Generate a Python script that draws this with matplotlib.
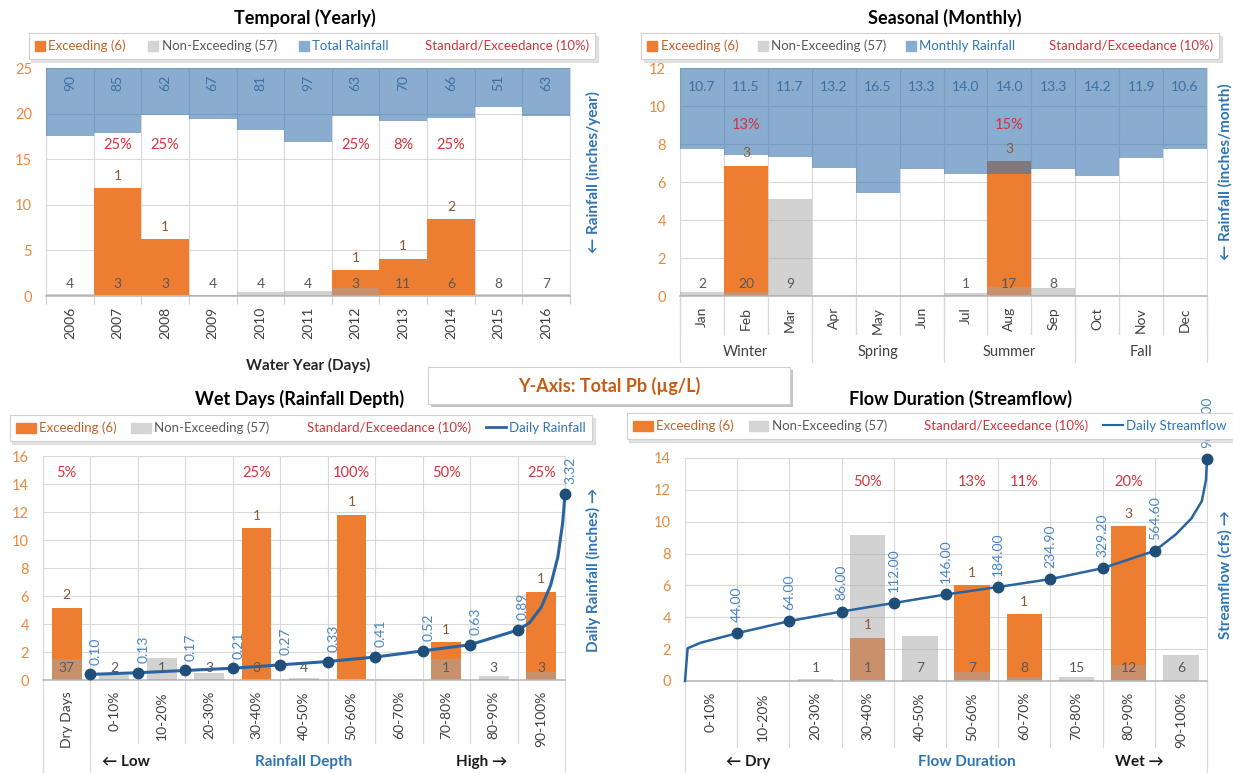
import numpy as np
import matplotlib.pyplot as plt
from matplotlib.patches import Patch, Rectangle
from matplotlib.lines import Line2D
from matplotlib.ticker import MultipleLocator, NullLocator
from matplotlib.transforms import blended_transform_factory as blend

plt.rcParams['font.family'] = ['Lato', 'DejaVu Sans']

W, H = 1233, 773

ORANGE = '#ed7d31'
GRAY = '#a6a6a6'
RAINBLUE = '#3a75b0'
LINEBLUE = '#2a64a0'
DOTBLUE = '#1f4e79'
TICKORANGE = '#e9893f'
LABBLUE = '#2e75b6'
RED = '#d2343c'
BROWN = '#8a5a34'
DARK = '#404040'
GRID = '#d9d9d9'

# ---- Temporal (yearly) ----
years = ['2006', '2007', '2008', '2009', '2010', '2011', '2012', '2013', '2014', '2015', '2016']
yr_exceed = [0, 11.8, 6.2, 0, 0, 0, 2.8, 4.1, 8.4, 0, 0]
yr_nonexceed = [0.25, 0, 0, 0.1, 0.4, 0.55, 0.85, 0, 0, 0.25, 0.2]
yr_rainfall = [90, 85, 62, 67, 81, 97, 63, 70, 66, 51, 63]
yr_n_nonexceed = ['4', '3', '3', '4', '4', '4', '3', '11', '6', '8', '7']
yr_n_exceed = ['', '1', '1', '', '', '', '1', '1', '2', '', '']
yr_pct = ['', '25%', '25%', '', '', '', '25%', '8%', '25%', '', '']

# ---- Seasonal (monthly) ----
months = ['Jan', 'Feb', 'Mar', 'Apr', 'May', 'Jun', 'Jul', 'Aug', 'Sep', 'Oct', 'Nov', 'Dec']
mo_exceed = [0, 6.85, 0, 0, 0, 0, 0, 7.1, 0, 0, 0, 0]
mo_nonexceed = [0.2, 0.2, 5.1, 0, 0, 0, 0.15, 0.45, 0.4, 0, 0, 0]
mo_rainfall = [10.7, 11.5, 11.7, 13.2, 16.5, 13.3, 14.0, 14.0, 13.3, 14.2, 11.9, 10.6]
mo_n_nonexceed = ['2', '20', '9', '', '', '', '1', '17', '8', '', '', '']
mo_n_exceed = ['', '3', '', '', '', '', '', '3', '', '', '', '']
mo_pct = ['', '13%', '', '', '', '', '', '15%', '', '', '', '']
seasons = ['Winter', 'Spring', 'Summer', 'Fall']

# ---- Wet days (rainfall depth) ----
depth_bins = ['Dry Days', '0-10%', '10-20%', '20-30%', '30-40%', '40-50%',
              '50-60%', '60-70%', '70-80%', '80-90%', '90-100%']
wd_exceed = [5.15, 0, 0, 0, 10.85, 0, 11.8, 0, 2.7, 0, 6.3]
wd_nonexceed = [1.5, 0.35, 1.6, 0.5, 0.1, 0.12, 0, 0, 1.5, 0.3, 0.6]
wd_n_nonexceed = ['37', '2', '1', '3', '3', '4', '', '', '1', '3', '3']
wd_n_exceed = ['2', '', '', '', '1', '', '1', '', '1', '', '1']
wd_pct = ['5%', '', '', '', '25%', '', '100%', '', '50%', '', '25%']
daily_rain = [0.10, 0.13, 0.17, 0.21, 0.27, 0.33, 0.41, 0.52, 0.63, 0.89, 3.32]
rain_tail_x = [9.75, 10.0, 10.2, 10.35, 10.45]
rain_tail_y = [1.02, 1.3, 1.7, 2.2, 2.8]

# ---- Flow duration (streamflow) ----
flow_bins = ['0-10%', '10-20%', '20-30%', '30-40%', '40-50%',
             '50-60%', '60-70%', '70-80%', '80-90%', '90-100%']
fd_exceed = [0, 0, 0, 2.7, 0, 6.0, 4.2, 0, 9.7, 0]
fd_nonexceed = [0, 0, 0.15, 9.15, 2.85, 0.55, 0.25, 0.25, 1.0, 1.65]
fd_n_nonexceed = ['', '', '1', '1', '7', '7', '8', '15', '12', '6']
fd_n_exceed = ['', '', '', '1', '', '1', '1', '', '3', '']
fd_pct = ['', '', '', '50%', '', '13%', '11%', '', '20%', '']
streamflow = [44.00, 64.00, 86.00, 112.00, 146.00, 184.00, 234.90, 329.20, 564.60, 9600.00]
flow_head_x = [-0.5, -0.45, -0.2]
flow_head_y = [10, 27.6, 32.7]
flow_tail_x = [8.9, 9.2, 9.4, 9.48]
flow_tail_y = [935, 1535, 2630, 5000]

fig = plt.figure(figsize=(W / 100, H / 100), dpi=100)


def px_axes(l, t, r, b):
    return fig.add_axes([l / W, 1 - b / H, (r - l) / W, (b - t) / H])


def fy(y):  # pixel row -> figure fraction
    return 1 - y / H


def base_axes(ax, cats, ymax, ystep):
    n = len(cats)
    ax.set_xlim(-0.5, n - 0.5)
    ax.set_ylim(0, ymax)
    ax.yaxis.set_major_locator(MultipleLocator(ystep))
    ax.set_xticks(np.arange(n))
    ax.set_xticklabels(cats, rotation=90)
    ax.set_xticks(np.arange(n + 1) - 0.5, minor=True)
    ax.grid(True, which='minor', axis='x', color=GRID, lw=0.8)
    ax.grid(True, which='major', axis='y', color=GRID, lw=0.8)
    ax.tick_params(axis='y', length=0, labelcolor=TICKORANGE, labelsize=10.5, pad=10)
    ax.tick_params(axis='x', which='major', length=0, labelsize=10, labelcolor=DARK, pad=8)
    ax.tick_params(axis='x', which='minor', length=0)
    for s in ['left', 'top', 'right']:
        ax.spines[s].set_color(GRID)
    ax.spines['bottom'].set_color('#bfbfbf')
    ax.spines['bottom'].set_linewidth(1.3)
    ax.set_axisbelow(True)


def draw_bars(ax, exceed, nonexceed, width):
    x = np.arange(len(exceed))
    ax.bar(x, exceed, width, color=ORANGE, zorder=2)
    ax.bar(x, nonexceed, width, color=GRAY, alpha=0.5, zorder=3)


def bar_texts(top, ax, exceed, n_non, n_exc, pct, pct_y):
    for i in range(len(exceed)):
        if n_non[i]:
            top.annotate(n_non[i], (i, 0), xycoords=ax.transData, xytext=(0, 9),
                         textcoords='offset points', ha='center', va='center',
                         fontsize=10, color='#595959', zorder=6)
        if n_exc[i]:
            top.annotate(n_exc[i], (i, exceed[i]), xycoords=ax.transData, xytext=(0, 9),
                         textcoords='offset points', ha='center', va='center',
                         fontsize=10, color=BROWN, zorder=6)
        if pct[i]:
            top.text(i, pct_y, pct[i], transform=ax.transData, ha='center', va='center',
                     fontsize=10.5, color=RED, zorder=6)


def hide_twin(ax2):
    ax2.yaxis.set_major_locator(NullLocator())
    ax2.yaxis.set_minor_locator(NullLocator())
    for s in ax2.spines.values():
        s.set_visible(False)


def panel_legend(handles, labels, colors, cx, cy, hl, colsp):
    leg = fig.legend(handles, labels, loc='center', bbox_to_anchor=(cx / W, fy(cy)),
                     ncol=len(labels), frameon=True, fancybox=False,
                     shadow={'color': '#c8c8c8'}, edgecolor='#d0d0d0', fontsize=9.5,
                     labelcolor=colors, handlelength=hl, handleheight=0.8,
                     handletextpad=0.25, columnspacing=colsp, borderpad=0.5)
    leg.get_frame().set_linewidth(0.8)
    leg.set_zorder(10)


def below_lines(ax, xs, y0, y1):
    tr = blend(ax.transData, fig.transFigure)
    for x in xs:
        ax.plot([x, x], [fy(y0), fy(y1)], transform=tr, color=GRID, lw=0.9, clip_on=False)


# ================= Panel 1: Temporal (Yearly) =================
ax1 = px_axes(46, 68, 570, 296)
base_axes(ax1, years, 25, 5)
ax1.tick_params(axis='x', which='minor', length=6, color='#bfbfbf', direction='out')
draw_bars(ax1, yr_exceed, yr_nonexceed, 1.0)
t1 = ax1.twinx()
t1.bar(np.arange(len(years)), yr_rainfall, 1.0, color=RAINBLUE, alpha=0.6)
t1.set_ylim(300, 0)
hide_twin(t1)
bar_texts(t1, ax1, yr_exceed, yr_n_nonexceed, yr_n_exceed, yr_pct, 16.6)
for i, v in enumerate(yr_rainfall):
    t1.text(i, 23.4, str(v), transform=ax1.transData, rotation=90, ha='center',
            va='center', fontsize=10, color='#3d70a3', zorder=6)
fig.text(305 / W, fy(18), 'Temporal (Yearly)', ha='center', va='center',
         fontsize=13, fontweight='bold', color='black')
ax1.text(5, fy(365), 'Water Year (Days)', transform=blend(ax1.transData, fig.transFigure),
         ha='center', va='center', fontsize=11, fontweight='bold', color='#262626')
fig.text(593 / W, fy(172), '\u2190 Rainfall (inches/year)', rotation=90, ha='center',
         va='center', fontsize=11, fontweight='bold', color=LABBLUE)
panel_legend([Patch(color=ORANGE), Patch(color='#d4d4d4'), Patch(color='#8aacd0'),
              Patch(color='none')],
             ['Exceeding (6)', 'Non-Exceeding (57)', 'Total Rainfall', 'Standard/Exceedance (10%)'],
             ['#c0622a', '#595959', LABBLUE, RED], 312, 46, 0.75, 1.7)

# ================= Panel 2: Seasonal (Monthly) =================
ax2 = px_axes(680, 68, 1207, 296)
base_axes(ax2, months, 12, 2)
draw_bars(ax2, mo_exceed, mo_nonexceed, 1.0)
t2 = ax2.twinx()
t2.bar(np.arange(len(months)), mo_rainfall, 1.0, color=RAINBLUE, alpha=0.6)
t2.set_ylim(30, 0)
hide_twin(t2)
bar_texts(t2, ax2, mo_exceed, mo_n_nonexceed, mo_n_exceed, mo_pct, 9.0)
for i, v in enumerate(mo_rainfall):
    t2.text(i, 11.0, f'{v:.1f}', transform=ax2.transData, ha='center', va='center',
            fontsize=10, color='#3d70a3', zorder=6)
below_lines(ax2, np.arange(len(months) + 1) - 0.5, 296, 334)
below_lines(ax2, np.arange(0, len(months) + 1, 3) - 0.5, 296, 362)
tr2 = blend(ax2.transData, fig.transFigure)
for k, s in enumerate(seasons):
    ax2.text(3 * k + 1, fy(352), s, transform=tr2, ha='center', va='center',
             fontsize=10.5, color=DARK)
fig.text(945 / W, fy(18), 'Seasonal (Monthly)', ha='center', va='center',
         fontsize=13, fontweight='bold', color='black')
fig.text(1225 / W, fy(172), '\u2190 Rainfall (inches/month)', rotation=90, ha='center',
         va='center', fontsize=11, fontweight='bold', color=LABBLUE)
panel_legend([Patch(color=ORANGE), Patch(color='#d4d4d4'), Patch(color='#8aacd0'),
              Patch(color='none')],
             ['Exceeding (6)', 'Non-Exceeding (57)', 'Monthly Rainfall', 'Standard/Exceedance (10%)'],
             ['#c0622a', '#595959', LABBLUE, RED], 930, 46, 0.75, 1.5)

# ================= Panel 3: Wet Days (Rainfall Depth) =================
ax3 = px_axes(43, 456, 565, 680)
base_axes(ax3, depth_bins, 16, 2)
draw_bars(ax3, wd_exceed, wd_nonexceed, 0.63)
t3 = ax3.twinx()
t3.set_ylim(0, 4)
hide_twin(t3)
rx = np.arange(len(daily_rain)) + 0.5
cx = np.concatenate([rx[:-1], rain_tail_x, rx[-1:]])
cy = np.concatenate([daily_rain[:-1], rain_tail_y, daily_rain[-1:]])
t3.plot(cx, cy, color=LINEBLUE, lw=2.2, zorder=4, clip_on=False)
t3.plot(rx, daily_rain, 'o', color=DOTBLUE, ms=7.5, zorder=5, clip_on=False)
for x, v in zip(rx, daily_rain):
    t3.annotate(f'{v:.2f}', (x, v), xytext=(4, 7), textcoords='offset points',
                rotation=90, ha='center', va='bottom', fontsize=10, color='#4a86c5',
                zorder=6, annotation_clip=False)
bar_texts(t3, ax3, wd_exceed, wd_n_nonexceed, wd_n_exceed, wd_pct, 14.8)
below_lines(ax3, np.arange(1, len(depth_bins)) - 0.5, 680, 743)
below_lines(ax3, [-0.5, 0.5, len(depth_bins) - 0.5], 680, 773)
tr3 = blend(ax3.transData, fig.transFigure)
ax3.text(1.25, fy(762), '\u2190 Low', transform=tr3, ha='center', va='center',
         fontsize=11, fontweight='bold', color='#1a1a1a')
ax3.text(5.0, fy(762), 'Rainfall Depth', transform=tr3, ha='center', va='center',
         fontsize=11, fontweight='bold', color=LABBLUE)
ax3.text(8.75, fy(762), 'High \u2192', transform=tr3, ha='center', va='center',
         fontsize=11, fontweight='bold', color='#1a1a1a')
fig.text(300 / W, fy(399), 'Wet Days (Rainfall Depth)', ha='center', va='center',
         fontsize=13, fontweight='bold', color='black')
fig.text(593 / W, fy(570), 'Daily Rainfall (inches) \u2192', rotation=90, ha='center',
         va='center', fontsize=11, fontweight='bold', color=LABBLUE)
panel_legend([Patch(color=ORANGE), Patch(color='#d4d4d4'), Patch(color='none'),
              Line2D([], [], color=LINEBLUE, lw=2)],
             ['Exceeding (6)', 'Non-Exceeding (57)', 'Standard/Exceedance (10%)', 'Daily Rainfall'],
             ['#c0622a', '#595959', RED, LABBLUE], 301, 428, 1.5, 1.1)

# ================= Panel 4: Flow Duration (Streamflow) =================
ax4 = px_axes(685, 458, 1207, 681)
base_axes(ax4, flow_bins, 14, 2)
draw_bars(ax4, fd_exceed, fd_nonexceed, 0.68)
t4 = ax4.twinx()
t4.set_yscale('log')
t4.set_ylim(10, 10000)
hide_twin(t4)
sx = np.arange(len(streamflow)) + 0.5
fx = np.concatenate([flow_head_x, sx[:-1], flow_tail_x, sx[-1:]])
fv = np.concatenate([flow_head_y, streamflow[:-1], flow_tail_y, streamflow[-1:]])
t4.plot(fx, fv, color=LINEBLUE, lw=1.8, zorder=4, clip_on=False)
t4.plot(sx, streamflow, 'o', color=DOTBLUE, ms=7.5, zorder=5, clip_on=False)
for x, v in zip(sx, streamflow):
    t4.annotate(f'{v:.2f}', (x, v), xytext=(0, 8), textcoords='offset points',
                rotation=90, ha='center', va='bottom', fontsize=10, color='#4a86c5',
                zorder=6, annotation_clip=False)
bar_texts(t4, ax4, fd_exceed, fd_n_nonexceed, fd_n_exceed, fd_pct, 12.5)
below_lines(ax4, np.arange(1, len(flow_bins)) - 0.5, 681, 747)
below_lines(ax4, [-0.5, len(flow_bins) - 0.5], 681, 773)
tr4 = blend(ax4.transData, fig.transFigure)
ax4.text(0.7, fy(762), '\u2190 Dry', transform=tr4, ha='center', va='center',
         fontsize=11, fontweight='bold', color='#1a1a1a')
ax4.text(4.9, fy(762), 'Flow Duration', transform=tr4, ha='center', va='center',
         fontsize=11, fontweight='bold', color=LABBLUE)
ax4.text(8.2, fy(762), 'Wet \u2192', transform=tr4, ha='center', va='center',
         fontsize=11, fontweight='bold', color='#1a1a1a')
fig.text(960 / W, fy(399), 'Flow Duration (Streamflow)', ha='center', va='center',
         fontsize=13, fontweight='bold', color='black')
fig.text(1225 / W, fy(575), 'Streamflow (cfs) \u2192', rotation=90, ha='center',
         va='center', fontsize=11, fontweight='bold', color=LABBLUE)
panel_legend([Patch(color=ORANGE), Patch(color='#d4d4d4'), Patch(color='none'),
              Line2D([], [], color=LINEBLUE, lw=1.5)],
             ['Exceeding (6)', 'Non-Exceeding (57)', 'Standard/Exceedance (10%)', 'Daily Streamflow'],
             ['#c0622a', '#595959', RED, LABBLUE], 930, 426, 1.5, 1.1)

# ================= centre Y-axis box =================
fig.patches.append(Rectangle((431 / W, fy(407)), 362 / W, 37 / H, transform=fig.transFigure,
                             facecolor='#c4c4c4', edgecolor='none', zorder=8))
fig.patches.append(Rectangle((428 / W, fy(404)), 362 / W, 37 / H, transform=fig.transFigure,
                             facecolor='white', edgecolor='#d0d0d0', lw=0.8, zorder=9))
fig.text(609 / W, fy(386), 'Y-Axis: Total Pb (\u00b5g/L)', ha='center', va='center',
         fontsize=13, fontweight='bold', color='#c65b12', zorder=11)

fig.savefig('out.png', dpi=100)
